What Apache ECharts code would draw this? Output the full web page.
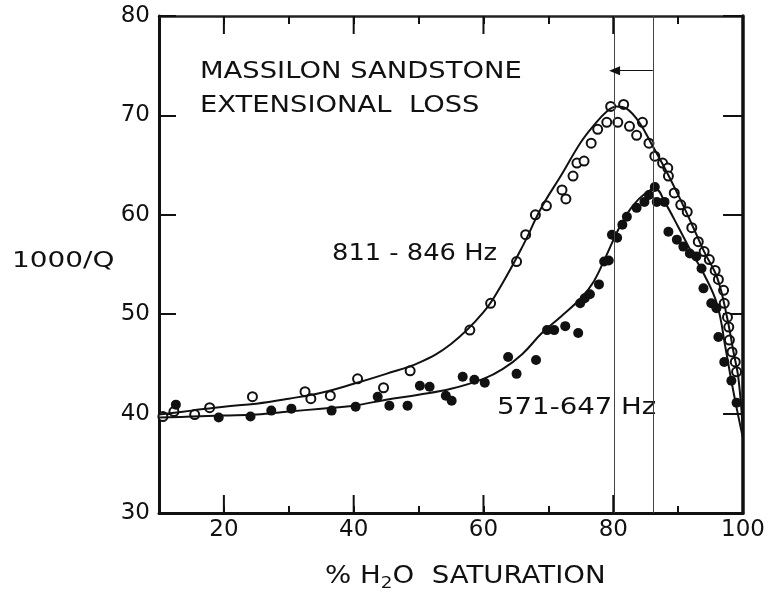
<!DOCTYPE html>
<html>
<head>
<meta charset="utf-8">
<title>Massilon Sandstone – Extensional Loss</title>
<script src="https://cdn.jsdelivr.net/npm/echarts@6/dist/echarts.min.js"></script>
<style>
  html, body { margin: 0; padding: 0; background: #ffffff; }
  #chart { width: 768px; height: 596px; }
</style>
</head>
<body>
<div id="chart"></div>
<script>
// Measured attenuation, 1000/Q vs. water saturation (%)
const highFreqPoints = [
  [10.6, 39.7], [12.3, 40.2], [15.5, 39.9], [17.8, 40.6], [24.4, 41.7],
  [32.5, 42.2], [33.4, 41.5], [36.4, 41.8], [40.6, 43.5], [44.6, 42.6],
  [48.7, 44.3], [57.9, 48.4], [61.1, 51.1], [65.1, 55.3], [66.5, 58.0],
  [68.0, 60.0], [69.7, 60.9], [72.1, 62.5], [72.7, 61.6], [73.8, 63.9],
  [74.4, 65.2], [75.5, 65.4], [76.6, 67.2], [77.6, 68.6], [79.0, 69.3],
  [79.6, 70.9], [80.7, 69.3], [81.6, 71.1], [82.5, 68.9], [83.6, 68.0],
  [84.5, 69.3], [85.5, 67.2], [86.4, 65.9], [87.6, 65.2], [88.4, 64.7],
  [88.5, 63.9], [89.4, 62.2], [90.4, 61.0], [91.4, 60.3], [92.1, 58.7],
  [93.1, 57.3], [94.0, 56.3], [94.8, 55.5], [95.7, 54.4], [96.2, 53.5],
  [97.0, 52.4], [97.1, 51.1], [97.6, 49.7], [97.8, 48.7], [97.9, 47.4],
  [98.3, 46.2], [98.8, 45.2], [99.0, 44.2]
];

const lowFreqPoints = [
  [12.6, 40.9], [19.2, 39.6], [24.1, 39.7], [27.3, 40.3], [30.4, 40.5],
  [36.6, 40.3], [40.3, 40.7], [43.7, 41.7], [45.5, 40.8], [48.3, 40.8],
  [50.2, 42.8], [51.7, 42.7], [54.2, 41.8], [55.1, 41.3], [56.8, 43.7],
  [58.6, 43.4], [60.2, 43.1], [63.8, 45.7], [65.1, 44.0], [68.1, 45.4],
  [69.8, 48.4], [70.9, 48.4], [72.6, 48.8], [74.6, 48.1], [74.9, 51.1],
  [75.6, 51.6], [76.4, 52.0], [77.8, 53.0], [78.6, 55.3], [79.3, 55.4],
  [79.8, 58.0], [80.6, 57.7], [81.4, 59.0], [82.1, 59.8], [83.6, 60.7],
  [84.8, 61.3], [85.5, 62.0], [86.4, 62.8], [86.7, 61.3], [87.9, 61.3],
  [88.5, 58.3], [89.8, 57.5], [90.8, 56.8], [91.8, 56.1], [92.8, 55.8],
  [93.6, 54.6], [93.9, 52.6], [95.1, 51.1], [95.9, 50.6], [96.2, 47.7],
  [97.1, 45.2], [98.2, 43.3], [99.0, 41.1]
];

// Hand-drawn trend curves through each data set
const highFreqCurve = [
  [10, 39.9], [15, 40.3], [20, 40.7], [25, 41.0], [30, 41.5], [35, 42.1],
  [40, 43.0], [45, 44.0], [50, 45.1], [55, 47.0], [60, 50.2], [63, 53.2],
  [66, 56.8], [69, 60.8], [72, 64.0], [75, 67.3], [77, 69.0], [79, 70.4],
  [80.5, 70.9], [82, 70.7], [84, 69.3], [86, 67.0], [88, 64.6], [90, 62.0],
  [92, 59.2], [94, 56.3], [96, 53.7], [97.5, 49.8], [98.5, 46.3],
  [99.3, 43.5], [100, 38.0]
];

const lowFreqCurve = [
  [10, 39.6], [15, 39.7], [20, 39.8], [25, 39.9], [30, 40.2], [35, 40.5],
  [40, 40.8], [45, 41.4], [50, 41.9], [55, 42.5], [60, 43.5], [63, 44.5],
  [66, 46.0], [69, 48.1], [72, 49.8], [75, 51.6], [77, 53.3], [79, 56.0],
  [81, 58.8], [83, 60.9], [85, 62.2], [86.5, 62.6], [88, 61.2], [90, 58.8],
  [92, 56.3], [94, 54.0], [96, 51.0], [97.3, 46.6], [98.2, 43.3],
  [99, 40.6], [100, 37.5]
];

// Axis ranges and tick positions
const xMin = 10, xMax = 100;
const yMin = 30, yMax = 80;
const xLabelValues = [20, 40, 60, 80, 100];
const xMajorTicks = [20, 40, 60, 80];

// Peak-shift marker: two vertical guides and an arrow between them
const guideLines = [80.2, 86.1];
const arrowLevel = 74.5;

const FONT = '"DejaVu Sans", "Liberation Sans", sans-serif';
const INK = '#111111';

// Longer inward ticks at the labelled saturation values, drawn as thin bars
function majorTickSeries(side, len) {
  const data = xMajorTicks.map(function (v) { return [v, side === 'bottom' ? yMin : yMax]; });
  return {
    type: 'scatter', data: data, silent: true, clip: false, z: 10,
    symbol: 'rect', symbolSize: [2, len],
    symbolOffset: [0, side === 'bottom' ? -len / 2 : len / 2],
    itemStyle: { color: INK, opacity: 1 },
    emphasis: { disabled: true }
  };
}

function frameTick(len) {
  return { show: true, inside: true, length: len, lineStyle: { color: INK, width: 2 } };
}

const chart = echarts.init(document.getElementById('chart'), null, { renderer: 'canvas' });

const option = {
  animation: false,
  backgroundColor: '#ffffff',
  grid: { left: 159, right: 21, top: 16, bottom: 83, containLabel: false },
  xAxis: [
    {
      type: 'value', position: 'bottom', min: xMin, max: xMax, interval: 10,
      axisLine: { show: true, onZero: false, lineStyle: { color: INK, width: 3 } },
      axisTick: frameTick(7),
      axisLabel: { show: true, color: INK, fontFamily: FONT, fontSize: 23, margin: 6,
                   formatter: function (v) { return xLabelValues.indexOf(v) >= 0 ? String(v) : ''; } },
      splitLine: { show: false }
    },
    {
      type: 'value', position: 'top', min: xMin, max: xMax, interval: 10,
      axisLine: { show: true, onZero: false, lineStyle: { color: '#222222', width: 2.5 } },
      axisTick: frameTick(8), axisLabel: { show: false }, splitLine: { show: false }
    }
  ],
  yAxis: [
    {
      type: 'value', position: 'left', min: yMin, max: yMax, interval: 10,
      axisLine: { show: true, onZero: false, lineStyle: { color: INK, width: 3 } },
      axisTick: frameTick(17),
      axisLabel: { show: true, color: INK, fontFamily: FONT, fontSize: 23, margin: 9 },
      splitLine: { show: false }
    },
    {
      type: 'value', position: 'right', min: yMin, max: yMax, interval: 10,
      axisLine: { show: true, onZero: false, lineStyle: { color: INK, width: 3.5 } },
      axisTick: frameTick(20), axisLabel: { show: false }, splitLine: { show: false }
    }
  ],
  series: [
    {
      name: 'guides', type: 'line', data: [], silent: true,
      markLine: {
        silent: true, animation: false, symbol: 'none',
        label: { show: false },
        lineStyle: { color: '#444444', width: 1, type: 'solid' },
        emphasis: { disabled: true },
        data: [
          { xAxis: guideLines[0] },
          { xAxis: guideLines[1] },
          [
            { coord: [guideLines[1], arrowLevel], symbol: 'none' },
            { coord: [guideLines[0], arrowLevel], symbol: 'triangle', symbolSize: [9, 11],
              symbolRotate: 90, lineStyle: { color: INK } }
          ]
        ]
      }
    },
    {
      name: '811-846 Hz fit', type: 'line', data: highFreqCurve, smooth: 0.4,
      showSymbol: false, silent: true,
      lineStyle: { color: INK, width: 2 }
    },
    {
      name: '571-647 Hz fit', type: 'line', data: lowFreqCurve, smooth: 0.4,
      showSymbol: false, silent: true,
      lineStyle: { color: INK, width: 2 }
    },
    {
      name: '811-846 Hz', type: 'scatter', data: highFreqPoints, symbol: 'circle',
      symbolSize: 9, silent: true,
      itemStyle: { color: '#ffffff', borderColor: INK, borderWidth: 2, opacity: 1 }
    },
    {
      name: '571-647 Hz', type: 'scatter', data: lowFreqPoints, symbol: 'circle',
      symbolSize: 10, silent: true,
      itemStyle: { color: INK, opacity: 1 }
    },
    majorTickSeries('bottom', 18),
    majorTickSeries('top', 18)
  ],
  graphic: [
    { type: 'text', x: 200, y: 72, scaleX: 1.19, silent: true,
      style: { text: 'MASSILON SANDSTONE', font: '23px ' + FONT, fill: INK,
               align: 'left', verticalAlign: 'middle' } },
    { type: 'text', x: 200, y: 106, scaleX: 1.19, silent: true,
      style: { text: 'EXTENSIONAL  LOSS', font: '23px ' + FONT, fill: INK,
               align: 'left', verticalAlign: 'middle' } },
    { type: 'text', x: 332, y: 254, scaleX: 1.12, silent: true,
      style: { text: '811 - 846 Hz', font: '23px ' + FONT, fill: INK,
               align: 'left', verticalAlign: 'middle' } },
    { type: 'text', x: 497, y: 408, scaleX: 1.2, silent: true,
      style: { text: '571-647 Hz', font: '23px ' + FONT, fill: INK,
               align: 'left', verticalAlign: 'middle' } },
    { type: 'text', x: 12, y: 261, scaleX: 1.27, silent: true,
      style: { text: '1000/Q', font: '22px ' + FONT, fill: INK,
               align: 'left', verticalAlign: 'middle' } },
    { type: 'text', x: 325, y: 562, scaleX: 1.15, silent: true,
      style: {
        text: '{a|% H}{s|2}{a|O  SATURATION}',
        fill: INK, align: 'left', verticalAlign: 'top',
        rich: {
          a: { fontFamily: FONT, fontSize: 24, fill: INK, verticalAlign: 'top', height: 30 },
          s: { fontFamily: FONT, fontSize: 16, fill: INK, verticalAlign: 'top', padding: [14, 0, 0, 0] }
        }
      } }
  ]
};

chart.setOption(option);
</script>
</body>
</html>
